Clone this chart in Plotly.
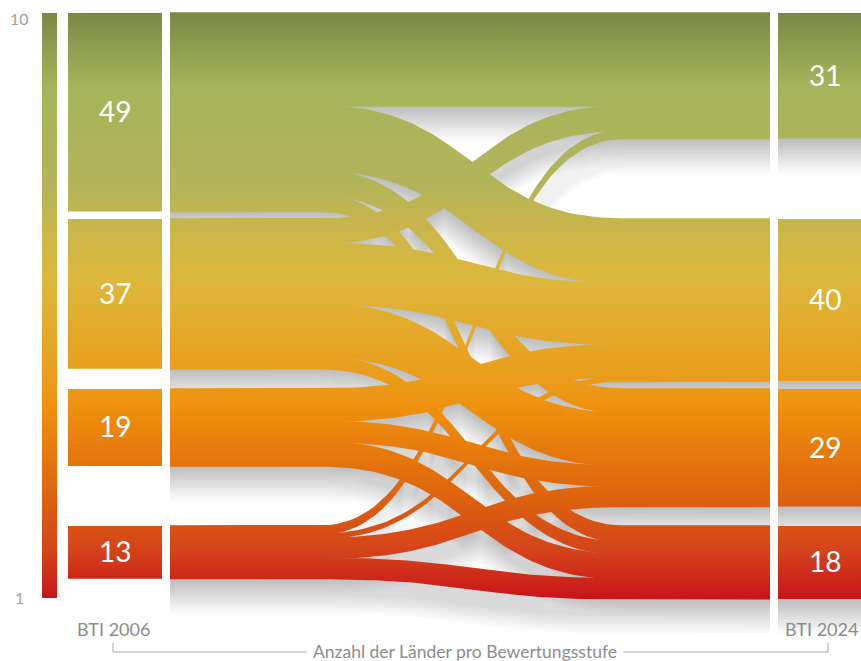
import numpy as np
import plotly.graph_objects as go

# ---------------- data ----------------
left_label = "BTI 2006"
right_label = "BTI 2024"
caption = "Anzahl der Länder pro Bewertungsstufe"
scale_top_label = "10"
scale_bottom_label = "1"
left_counts = [49, 37, 19, 13]
right_counts = [31, 40, 29, 18]
# flows[source][target]  (source: BTI 2006 level, target: BTI 2024 level)
flows = [
    [23, 16, 6, 4],
    [6, 15, 13, 3],
    [0, 8, 5, 6],
    [2, 1, 5, 5],
]

# ---------------- layout constants (pixels) ----------------
W, H = 861, 661
K = 4.05                      # px per country
node_tops = [13, 219, 389, 526]
SCALE_TOP, SCALE_BOT = 13, 598
LN_X0, LN_X1 = 68, 162        # left nodes
RN_X0, RN_X1 = 778, 875       # right nodes
FL_X0, FL_X1 = 170, 770       # flow span
CV_X0, CV_X1 = 322, 622       # curved section
BAR_X0, BAR_X1 = 42, 57
PAD = 0.7                     # overlap to hide anti-aliasing seams

CS = [
    [0.00, "#7b8746"],
    [0.05, "#8c9b4f"],
    [0.13, "#a6b55a"],
    [0.29, "#b3b45a"],
    [0.37, "#c9b64a"],
    [0.45, "#dcb83c"],
    [0.54, "#e4aa2a"],
    [0.63, "#eb9b1a"],
    [0.68, "#ef8f0d"],
    [0.75, "#e67a0c"],
    [0.83, "#dd620f"],
    [0.92, "#d4431a"],
    [1.00, "#c8141a"],
]
GRAD = dict(type="vertical", colorscale=CS, start=SCALE_TOP, stop=SCALE_BOT)


def rect(x0, x1, y0, y1):
    return [x0, x1, x1, x0, x0], [y0, y0, y1, y1, y0]


def bez(y0, y1, n=60):
    u = np.linspace(0, 1, n)
    c = 0.5 * (CV_X1 - CV_X0)
    px = [CV_X0, CV_X0 + c, CV_X1 - c, CV_X1]
    py = [y0, y0, y1, y1]
    bx = ((1 - u) ** 3) * px[0] + 3 * ((1 - u) ** 2) * u * px[1] + 3 * (1 - u) * u ** 2 * px[2] + u ** 3 * px[3]
    by = ((1 - u) ** 3) * py[0] + 3 * ((1 - u) ** 2) * u * py[1] + 3 * (1 - u) * u ** 2 * py[2] + u ** 3 * py[3]
    return list(bx), list(by)


def ribbon(s0, s1, t0, t1, pad=0.0):
    s0 -= pad; t0 -= pad; s1 += pad; t1 += pad
    tx, ty = bez(s0, t0)
    bx, by = bez(s1, t1)
    xs = [FL_X0] + tx + [FL_X1, FL_X1] + bx[::-1] + [FL_X0, FL_X0]
    ys = [s0] + ty + [t0, t1] + by[::-1] + [s1, s0]
    return xs, ys


# compute link geometry
links = []
src_off = list(node_tops)
tgt_off = list(node_tops)
for i in range(4):
    for j in range(4):
        v = flows[i][j]
        if v <= 0:
            continue
        s0 = src_off[i]; s1 = s0 + v * K
        src_off[i] = s1
        links.append([i, j, s0, s1])
for j in range(4):
    for L in links:
        if L[1] == j:
            v = flows[L[0]][j]
            t0 = tgt_off[j]; t1 = t0 + v * K
            tgt_off[j] = t1
            L.extend([t0, t1])

link_polys = [ribbon(s0, s1, t0, t1) for i, j, s0, s1, t0, t1 in links]
link_polys_pad = [ribbon(s0, s1, t0, t1, PAD) for i, j, s0, s1, t0, t1 in links]
left_polys = [rect(LN_X0, LN_X1, node_tops[i], node_tops[i] + v * K) for i, v in enumerate(left_counts)]
right_polys = [rect(RN_X0, RN_X1, node_tops[j], node_tops[j] + v * K) for j, v in enumerate(right_counts)]
# flat blocks under the straight parts of the links (hide seams)
flat_polys = [rect(FL_X0, CV_X0 + 2, node_tops[i], node_tops[i] + v * K) for i, v in enumerate(left_counts)]
flat_polys += [rect(CV_X1 - 2, FL_X1, node_tops[j], node_tops[j] + v * K) for j, v in enumerate(right_counts)]
bar_poly = rect(BAR_X0, BAR_X1, SCALE_TOP, SCALE_BOT)

fig = go.Figure()

# soft drop shadow (stacked translucent offset copies)
shadow_polys = link_polys + right_polys
for k in range(1, 23):
    dy = k * 1.6
    xs, ys = [], []
    for px_, py_ in shadow_polys:
        xs += list(px_) + [None]
        ys += [y + dy for y in py_] + [None]
    fig.add_trace(go.Scatter(x=xs, y=ys, mode="lines", line=dict(width=0),
                             fill="toself", fillcolor="rgba(0,0,0,0.010)",
                             hoverinfo="skip", showlegend=False))


def grad_poly(px_, py_):
    fig.add_trace(go.Scatter(x=px_, y=py_, mode="lines", line=dict(width=0),
                             fill="toself", fillgradient=GRAD,
                             hoverinfo="skip", showlegend=False))


for p in flat_polys:
    grad_poly(*p)
for (px_, py_), (qx, qy) in zip(link_polys, link_polys_pad):
    # clip padded version to the node extents by using exact outer edges only for flat ends
    grad_poly(qx, qy)
for p in left_polys + right_polys + [bar_poly]:
    grad_poly(*p)

ann = []
numfont = dict(family="Lato", size=28, color="white")
for i, v in enumerate(left_counts):
    ann.append(dict(x=(LN_X0 + LN_X1) / 2, y=node_tops[i] + v * K / 2 - 1, text=str(v),
                    showarrow=False, font=numfont))
for j, v in enumerate(right_counts):
    ann.append(dict(x=825, y=node_tops[j] + v * K / 2 - 1, text=str(v),
                    showarrow=False, font=numfont))
gray = "#8c8c8c"
ann.append(dict(x=19, y=18, text=scale_top_label, showarrow=False,
                font=dict(family="Lato", size=16, color="#a0a0a0")))
ann.append(dict(x=19, y=597, text=scale_bottom_label, showarrow=False,
                font=dict(family="Lato", size=16, color="#a0a0a0")))
ann.append(dict(x=113, y=629, text=left_label, showarrow=False,
                font=dict(family="Lato", size=18, color=gray)))
ann.append(dict(x=860, y=629, xanchor="right", text=right_label, showarrow=False,
                font=dict(family="Lato", size=18, color=gray)))
ann.append(dict(x=465, y=651, text=caption, showarrow=False, bgcolor="white",
                borderpad=6,
                font=dict(family="Lato", size=17.5, color=gray)))

lc = dict(color="#a8a8a8", width=1)
shapes = [
    dict(type="line", x0=113, x1=113, y0=643, y1=652, line=lc, xref="x", yref="y"),
    dict(type="line", x0=113, x1=828, y0=652, y1=652, line=lc, xref="x", yref="y", layer="below"),
    dict(type="line", x0=828, x1=828, y0=643, y1=652, line=lc, xref="x", yref="y"),
]

fig.update_layout(
    width=W, height=H, margin=dict(l=0, r=0, t=0, b=0),
    paper_bgcolor="white", plot_bgcolor="white",
    xaxis=dict(range=[0, W], visible=False, fixedrange=True),
    yaxis=dict(range=[H, 0], visible=False, fixedrange=True),
    annotations=ann, shapes=shapes, showlegend=False,
)
fig.write_html("out.html")
